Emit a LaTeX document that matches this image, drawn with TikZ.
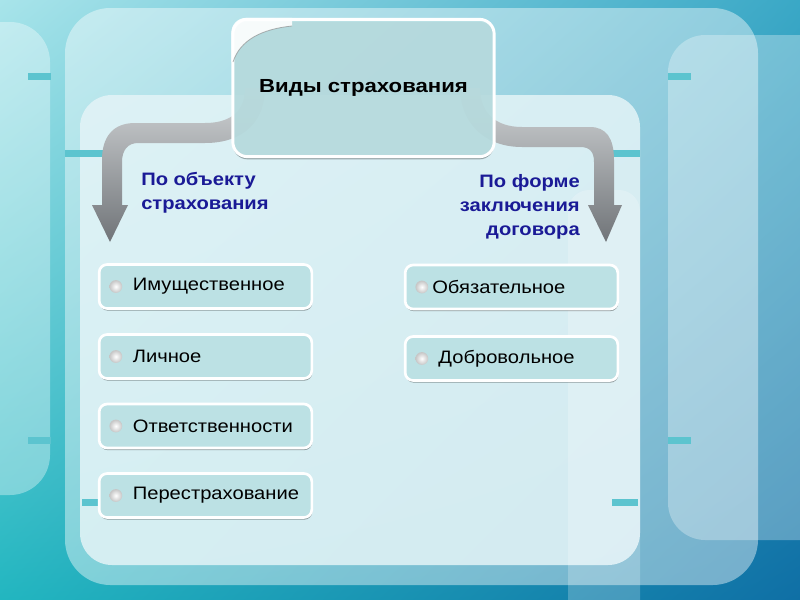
\documentclass[tikz,border=0pt]{standalone}
\usepackage{fontspec}
\setmainfont{Liberation Sans}[FakeStretch=1.12]
\newfontfamily\titlefont{Liberation Sans}[FakeStretch=1.17]
\usetikzlibrary{shadows,shadings}
\definecolor{bgA}{HTML}{A8E4EA}
\definecolor{bgB}{HTML}{3AA8C6}
\definecolor{bgC}{HTML}{22B6C0}
\definecolor{bgD}{HTML}{0F6FA5}
\definecolor{barc}{HTML}{5CC4CF}
\definecolor{boxc}{HTML}{BCE1E4}
\definecolor{navy}{HTML}{1A1A96}
\definecolor{bandL}{HTML}{D2D5D7}
\definecolor{bandD}{HTML}{707478}
\definecolor{innerc}{HTML}{E4F4F7}
\tikzset{
  bar/.style={fill=barc},
  titlebox/.style={draw=white, line width=2.2pt, fill=boxc, fill opacity=0.9, text opacity=1,
    rounded corners=11pt, minimum width=196pt, minimum height=103pt,
    font=\titlefont\bfseries\fontsize{14.2}{16}\selectfont,
    drop shadow={shadow xshift=0pt, shadow yshift=-2pt, opacity=0.3, fill=black}},
  itembox/.style={draw=white, line width=2pt, fill=boxc, rounded corners=6pt,
    minimum width=159.5pt, minimum height=33pt, text width=156pt, inner xsep=1.5pt, inner ysep=0pt,
    align=left, font=\fontsize{13.5}{15}\selectfont,
    drop shadow={shadow xshift=0.4pt, shadow yshift=-1.6pt, opacity=0.35, fill=black}},
  grp/.style={text=navy, font=\bfseries\fontsize{13.5}{18.2}\selectfont, inner sep=0pt},
  pearl/.style={inner color=white, outer color=gray!45},
  arrowband/.style={top color=bandL, bottom color=bandD},
}
\begin{document}
\begin{tikzpicture}[x=0.75pt,y=-0.75pt]
\useasboundingbox (0,0) rectangle (800,600);
\clip (0,0) rectangle (800,600);
% background
\shade[upper left=bgA, upper right=bgB, lower left=bgC, lower right=bgD] (0,0) rectangle (800,600);
% decorative panels
\fill[white, opacity=0.35, rounded corners=30pt] (-40,22) rectangle (50,495);
\fill[white, opacity=0.42, rounded corners=34pt] (65,8) rectangle (758,585);
\fill[white, opacity=0.3, rounded corners=28pt] (668,35) rectangle (840,540);
\fill[innerc, opacity=0.85, rounded corners=24pt] (80,95) rectangle (640,565);
\fill[white, opacity=0.22, rounded corners=16pt] (568,190) rectangle (640,640);
% small bars
\fill[bar] (28,73) rectangle (51,80);
\fill[bar] (668,73) rectangle (691,80);
\fill[bar] (28,437) rectangle (51,444);
\fill[bar] (668,437) rectangle (691,444);
\fill[bar] (65,150) rectangle (104,157);
\fill[bar] (612,150) rectangle (640,157);
\fill[bar] (82,499) rectangle (100,506);
\fill[bar] (612,499) rectangle (638,506);
% curved arrows
\coordinate (ltip) at (110,242);
\coordinate (rtip) at (606,242);
\shade[arrowband] (245,88) .. controls (245,110) and (232,123) .. (205,123) -- (135,123)
  .. controls (112,123) and (102,138) .. (102,160) -- (102,205) -- (92,205) -- (ltip)
  -- (128,205) -- (122,205) -- (122,162) .. controls (122,150) and (128,143) .. (138,143)
  -- (205,143) .. controls (245,143) and (265,120) .. (265,88) -- cycle;
\shade[arrowband] (480,88) .. controls (480,112) and (495,127) .. (522,127) -- (590,127)
  .. controls (606,127) and (614,138) .. (614,160) -- (614,205) -- (622,205) -- (rtip)
  -- (588,205) -- (594,205) -- (594,162) .. controls (594,152) and (590,147) .. (580,147)
  -- (522,147) .. controls (482,147) and (460,120) .. (460,88) -- cycle;
% title box
\node[titlebox] (title) at (363.5,88) {Виды страхования};
\begin{scope}
  \clip[rounded corners=11pt] (title.south west) rectangle (title.north east);
  \fill[white, opacity=0.9] (292,26) .. controls (262,29) and (240,40) .. (233,62) -- (220,62) -- (220,10) -- (292,10) -- cycle;
  \draw[gray, opacity=0.6, line width=0.6pt] (292,26) .. controls (262,29) and (240,40) .. (233,62);
\end{scope}
% group labels
\node[grp, anchor=north west, align=left] (gl) at (141,172) {По объекту\\страхования};
\node[grp, anchor=north east, align=right] (gr) at (580,174) {По форме\\заключения\\договора};
% items left
\node[itembox] (i1) at (205.5,286.5) {\hspace*{23.5pt}Имущественное};
\node[itembox] (i2) at (205.5,356.5) {\hspace*{23.5pt}Личное};
\node[itembox] (i3) at (205.5,426) {\hspace*{23.5pt}Ответственности};
\node[itembox] (i4) at (205.5,495.5) {\hspace*{23.5pt}Перестрахование};
% items right
\node[itembox] (j1) at (511.5,287) {\hspace*{18.6pt}Обязательное};
\node[itembox] (j2) at (511.5,358.5) {\hspace*{23.2pt}Добровольное};
% pearls
\foreach \n in {i1,i2,i3,i4,j1,j2}{
  \shade[pearl] ([xshift=13.5pt]\n.west) circle (4.8pt);
}
\end{tikzpicture}
\end{document}
